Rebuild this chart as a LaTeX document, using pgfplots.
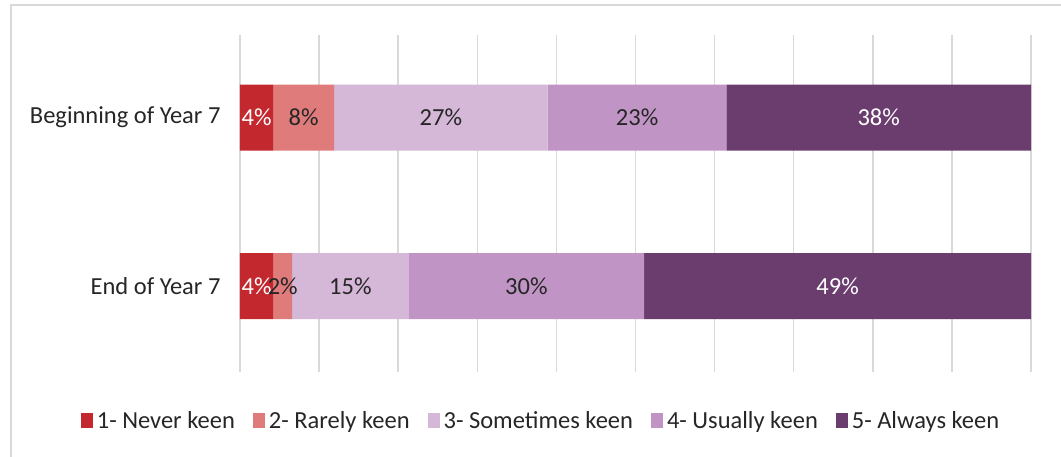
\documentclass[border=0pt]{standalone}
\usepackage{pgfplots}
\pgfplotsset{compat=1.18}
\usepackage{fontspec}
\setmainfont{Carlito}
\definecolor{c1}{HTML}{C3282F}
\definecolor{c2}{HTML}{E07B7B}
\definecolor{c3}{HTML}{D5B7D7}
\definecolor{c4}{HTML}{C095C5}
\definecolor{c5}{HTML}{6B3D6E}
\definecolor{txt}{HTML}{262626}
\definecolor{gridc}{HTML}{D9D9D9}
\newcommand\fs{\fontsize{24.5}{28}\selectfont}
\begin{document}
\begin{tikzpicture}[x=1pt,y=1pt,font=\fs]
\useasboundingbox (0,0) rectangle (1061,457);
\draw[gridc, line width=2pt] (11,-5) -- (11,452) -- (1075,452);
\begin{axis}[
  at={(240pt,85pt)}, anchor=south west,
  scale only axis, width=791pt, height=337pt,
  xbar stacked, bar width=66pt,
  xmin=0, xmax=100, ymin=-0.51, ymax=1.49,
  axis line style={draw=none},
  major tick length=0pt,
  xtick={0,10,...,100}, xticklabels={},
  xmajorgrids, grid style={gridc, line width=1.5pt},
  ytick={0,1}, yticklabels={End of Year 7, Beginning of Year 7},
  yticklabel style={text=txt, xshift=-16pt, font=\fs},
  legend columns=5,
  legend style={at={(0.3793,-0.1454)}, anchor=center, draw=none, fill=none,
    font=\fs, text=txt,
    /tikz/every even column/.append style={column sep=18pt},
    /tikz/every odd column/.append style={column sep=4pt},
    nodes={inner xsep=0pt}},
  legend image code/.code={\fill[#1] (0pt,-7.5pt) rectangle (12pt,7.5pt);},
]
\addplot[fill=c1, draw=none] coordinates {(4.2,0) (4.2,1)};
\addplot[fill=c2, draw=none] coordinates {(2.4,0) (7.7,1)};
\addplot[fill=c3, draw=none] coordinates {(14.7,0) (27.0,1)};
\addplot[fill=c4, draw=none] coordinates {(29.8,0) (22.6,1)};
\addplot[fill=c5, draw=none] coordinates {(48.9,0) (38.5,1)};
\legend{1- Never keen, 2- Rarely keen, 3- Sometimes keen, 4- Usually keen, 5- Always keen}
\end{axis}
\begin{axis}[
  at={(240pt,85pt)}, anchor=south west,
  scale only axis, width=791pt, height=337pt,
  xmin=0, xmax=100, ymin=-0.51, ymax=1.49,
  hide axis,
]
\addplot[draw=none, mark=none, nodes near coords, point meta=explicit symbolic,
  every node near coord/.style={anchor=center, text=white, font=\fs}]
  coordinates {(2.1,1) [4\%] (80.75,1) [38\%] (2.1,0) [4\%] (75.55,0) [49\%]};
\addplot[draw=none, mark=none, nodes near coords, point meta=explicit symbolic,
  every node near coord/.style={anchor=center, text=txt, font=\fs}]
  coordinates {(8.05,1) [8\%] (25.4,1) [27\%] (50.2,1) [23\%] (5.4,0) [2\%] (13.95,0) [15\%] (36.2,0) [30\%]};
\end{axis}
\end{tikzpicture}
\end{document}
